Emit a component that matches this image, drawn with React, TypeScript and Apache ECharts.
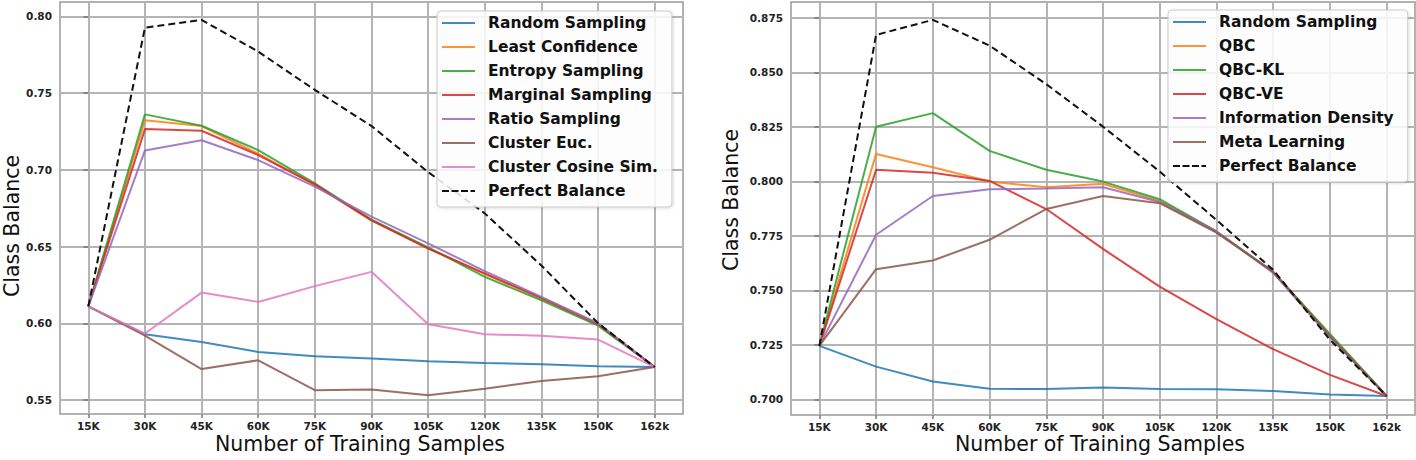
import React, { useEffect, useRef } from "react";
import * as echarts from "echarts";

const categories = ["15K", "30K", "45K", "60K", "75K", "90K", "105K", "120K", "135K", "150K", "162k"];

// Left panel
const leftRandom = [0.611, 0.5929, 0.5878, 0.5813, 0.5785, 0.577, 0.5753, 0.5742, 0.5733, 0.572, 0.5715];
const leftLeastConf = [0.611, 0.7322, 0.7285, 0.7105, 0.690, 0.667, 0.649, 0.632, 0.616, 0.599, 0.5715];
const leftEntropy = [0.611, 0.7361, 0.7287, 0.7128, 0.6911, 0.6675, 0.6495, 0.6302, 0.615, 0.5985, 0.5715];
const leftMarginal = [0.611, 0.7265, 0.7254, 0.7096, 0.6905, 0.667, 0.6487, 0.6325, 0.6165, 0.5995, 0.5715];
const leftRatio = [0.611, 0.7126, 0.7192, 0.7063, 0.689, 0.6695, 0.652, 0.634, 0.6172, 0.600, 0.5715];
const leftClusterEuc = [0.611, 0.592, 0.5702, 0.5759, 0.5564, 0.5568, 0.5531, 0.5574, 0.5624, 0.5655, 0.5715];
const leftClusterCos = [0.611, 0.5933, 0.620, 0.6139, 0.6242, 0.6335, 0.5994, 0.5929, 0.5918, 0.5894, 0.5715];
const leftPerfect = [0.611, 0.7926, 0.7976, 0.777, 0.752, 0.7285, 0.6985, 0.6716, 0.6376, 0.6001, 0.5715];
const leftTicks = [0.55, 0.6, 0.65, 0.7, 0.75, 0.8];

// Right panel
const rightRandom = [0.7245, 0.715, 0.7082, 0.7048, 0.7047, 0.7054, 0.7047, 0.7046, 0.7038, 0.7022, 0.7015];
const rightQBC = [0.7245, 0.8126, 0.8065, 0.7999, 0.7973, 0.7989, 0.791, 0.777, 0.7585, 0.7295, 0.7015];
const rightQBCKL = [0.7245, 0.8251, 0.8313, 0.814, 0.8053, 0.7999, 0.7918, 0.777, 0.7585, 0.730, 0.7015];
const rightQBCVE = [0.7245, 0.8053, 0.804, 0.8002, 0.7873, 0.769, 0.7517, 0.7368, 0.723, 0.7112, 0.7015];
const rightInfoDensity = [0.7245, 0.7755, 0.7933, 0.7964, 0.7967, 0.7973, 0.7905, 0.777, 0.758, 0.7285, 0.7015];
const rightMeta = [0.7245, 0.7597, 0.7637, 0.7732, 0.7873, 0.7933, 0.790, 0.7765, 0.7585, 0.729, 0.7015];
const rightPerfect = [0.7245, 0.8672, 0.8741, 0.8623, 0.8446, 0.8251, 0.8045, 0.7823, 0.7594, 0.7273, 0.7015];
const rightTicks = [0.7, 0.725, 0.75, 0.775, 0.8, 0.825, 0.85, 0.875];

const leftNames = [
  "Random Sampling",
  "Least Confidence",
  "Entropy Sampling",
  "Marginal Sampling",
  "Ratio Sampling",
  "Cluster Euc.",
  "Cluster Cosine Sim.",
  "Perfect Balance",
];
const rightNames = [
  "Random Sampling",
  "QBC",
  "QBC-KL",
  "QBC-VE",
  "Information Density",
  "Meta Learning",
  "Perfect Balance",
];

const C = {
  blue: "#1f77b4",
  orange: "#ff7f0e",
  green: "#2ca02c",
  red: "#d62728",
  purple: "#9467bd",
  brown: "#8c564b",
  pink: "#e377c2",
  black: "#111111",
};

const FONT = "DejaVu Sans";
const DASH_ICON = "path://M0,0h7v2h-7z M9.5,0h7v2h-7z M19,0h7v2h-7z M28.5,0h4.5v2h-4.5z";

function mkSeries(name: string, data: number[], color: string, idx: number, dashed = false) {
  return {
    type: "line",
    name,
    xAxisIndex: idx,
    yAxisIndex: idx,
    data: data.map((v, i) => [i, v]),
    symbol: "none",
    showSymbol: false,
    itemStyle: { color, opacity: dashed ? 1 : 0.85 },
    lineStyle: { color, width: 2, type: dashed ? [7, 4] : "solid", opacity: dashed ? 1 : 0.85 },
    z: dashed ? 3 : 2,
  };
}

function xAxis(gridIndex: number) {
  const idx = categories.map((_, i) => i);
  return {
    type: "value",
    gridIndex,
    min: -0.5,
    max: 10.5,
    axisLine: { show: false },
    axisTick: { show: true, length: 4, customValues: idx, lineStyle: { color: "#777", width: 1.5 } },
    axisLabel: {
      customValues: idx,
      margin: 6,
      formatter: (v: number) => categories[Math.round(v)] ?? "",
      fontFamily: FONT,
      fontWeight: "bold",
      fontSize: 10.5,
      color: "#222",
    },
    splitLine: { show: true, lineStyle: { color: "#b4b4b4", width: 2 } },
  };
}

function yAxis(gridIndex: number, min: number, max: number, ticks: number[], dec: number) {
  return {
    type: "value",
    gridIndex,
    min,
    max,
    axisLine: { show: false },
    axisTick: { show: true, length: 5, customValues: ticks, lineStyle: { color: "#777", width: 1.5 } },
    axisLabel: {
      customValues: ticks,
      margin: 8,
      formatter: (v: number) => v.toFixed(dec),
      fontFamily: FONT,
      fontWeight: "bold",
      fontSize: 10.5,
      color: "#222",
    },
    splitLine: { show: true, lineStyle: { color: "#b4b4b4", width: 2 } },
  };
}

function legend(names: string[], left: number, top: number) {
  return {
    data: names.map((n) => (n === "Perfect Balance" ? { name: n, icon: DASH_ICON } : { name: n })),
    orient: "vertical",
    left,
    top,
    icon: "rect",
    itemWidth: 33,
    itemHeight: 2,
    itemGap: 8,
    padding: [4, 14, 8, 5],
    backgroundColor: "rgba(255,255,255,0.85)",
    borderColor: "#cccccc",
    borderWidth: 1,
    borderRadius: 4,
    shadowColor: "rgba(0,0,0,0.15)",
    shadowBlur: 3,
    shadowOffsetX: 1,
    shadowOffsetY: 1,
    textStyle: {
      fontFamily: FONT,
      fontWeight: "bold",
      fontSize: 15.5,
      lineHeight: 16,
      color: "#111",
      padding: [0, 0, 0, 8],
    },
  };
}

export default function App() {
  const ref = useRef<HTMLDivElement>(null);
  useEffect(() => {
    document.body.style.margin = "0";
    if (!ref.current) return;
    const chart = echarts.init(ref.current, null, { renderer: "svg" });
    chart.setOption({
      animation: false,
      backgroundColor: "#ffffff",
      grid: [
        { left: 60, top: 2, width: 623, height: 412, show: true, borderColor: "#999", borderWidth: 1.5, backgroundColor: "transparent" },
        { left: 791, top: 2, width: 624, height: 413, show: true, borderColor: "#999", borderWidth: 1.5, backgroundColor: "transparent" },
      ],
      xAxis: [xAxis(0), xAxis(1)],
      yAxis: [yAxis(0, 0.5409, 0.8093, leftTicks, 2), yAxis(1, 0.6928, 0.8823, rightTicks, 3)],
      legend: [legend(leftNames, 437, 11), legend(rightNames, 1168, 10)],
      series: [
        mkSeries("Random Sampling", leftRandom, C.blue, 0),
        mkSeries("Least Confidence", leftLeastConf, C.orange, 0),
        mkSeries("Entropy Sampling", leftEntropy, C.green, 0),
        mkSeries("Marginal Sampling", leftMarginal, C.red, 0),
        mkSeries("Ratio Sampling", leftRatio, C.purple, 0),
        mkSeries("Cluster Euc.", leftClusterEuc, C.brown, 0),
        mkSeries("Cluster Cosine Sim.", leftClusterCos, C.pink, 0),
        mkSeries("Perfect Balance", leftPerfect, C.black, 0, true),
        mkSeries("Random Sampling", rightRandom, C.blue, 1),
        mkSeries("QBC", rightQBC, C.orange, 1),
        mkSeries("QBC-KL", rightQBCKL, C.green, 1),
        mkSeries("QBC-VE", rightQBCVE, C.red, 1),
        mkSeries("Information Density", rightInfoDensity, C.purple, 1),
        mkSeries("Meta Learning", rightMeta, C.brown, 1),
        mkSeries("Perfect Balance", rightPerfect, C.black, 1, true),
      ],
      graphic: [
        {
          type: "text",
          x: 12,
          y: 226,
          rotation: Math.PI / 2,
          style: { text: "Class Balance", fontFamily: FONT, fontSize: 20.5, fill: "#111", align: "center", verticalAlign: "middle" },
        },
        {
          type: "text",
          x: 731,
          y: 200,
          rotation: Math.PI / 2,
          style: { text: "Class Balance", fontFamily: FONT, fontSize: 20.5, fill: "#111", align: "center", verticalAlign: "middle" },
        },
        {
          type: "text",
          x: 360,
          y: 444,
          style: { text: "Number of Training Samples", fontFamily: FONT, fontSize: 20.5, fill: "#111", align: "center", verticalAlign: "middle" },
        },
        {
          type: "text",
          x: 1100,
          y: 444,
          style: { text: "Number of Training Samples", fontFamily: FONT, fontSize: 20.5, fill: "#111", align: "center", verticalAlign: "middle" },
        },
      ],
    });
    return () => chart.dispose();
  }, []);
  return <div ref={ref} style={{ width: 1416, height: 460 }} />;
}
